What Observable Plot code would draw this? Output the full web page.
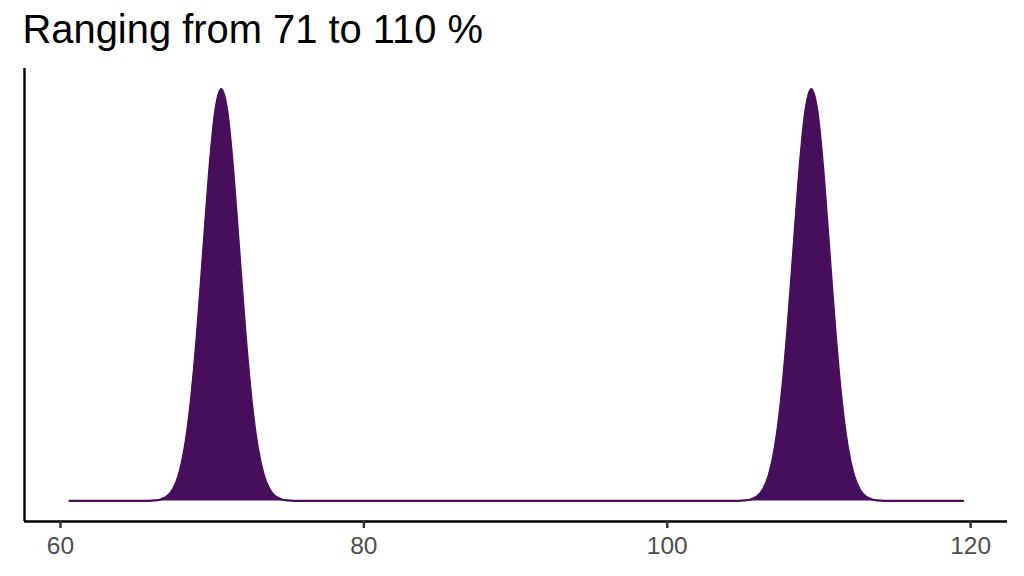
<!DOCTYPE html>
<html>
<head>
<meta charset="utf-8">
<script src="https://cdn.jsdelivr.net/npm/d3@7"></script>
<script src="https://cdn.jsdelivr.net/npm/@observablehq/plot@0.6"></script>
<style>
  html, body { margin: 0; padding: 0; background: #ffffff; }
  #wrap { position: relative; width: 1024px; height: 576px; overflow: hidden; font-family: "Liberation Sans", Arial, sans-serif; }
  #title { position: absolute; left: 22.5px; top: 10px; font-size: 39.9px; line-height: 1; color: #000; white-space: nowrap; }
  #chart { position: absolute; left: 0; top: 60px; }
</style>
</head>
<body>
<div id="wrap">
  <div id="title">Ranging from 71 to 110 %</div>
  <div id="chart"></div>
</div>
<script>
// Density curve (x in %, relative density with peak = 1)
const pct = [
  60.6, 65.0,
  65.8, 66.2, 66.6, 67.0, 67.4, 67.8, 68.2, 68.6, 69.0, 69.4, 69.8, 70.2, 70.6,
  71.0, 71.4, 71.8, 72.2, 72.6, 73.0, 73.4, 73.8, 74.2, 74.6, 75.0, 75.4,
  76.2, 103.9,
  104.7, 105.1, 105.5, 105.9, 106.3, 106.7, 107.1, 107.5, 107.9, 108.3, 108.7, 109.1, 109.5,
  109.9, 110.3, 110.7, 111.1, 111.5, 111.9, 112.3, 112.7, 113.1, 113.5, 113.9, 114.3,
  115.1, 119.5
];
const density = [
  0, 0,
  0.0003, 0.0011, 0.0035, 0.0103, 0.0269, 0.0628, 0.1309, 0.2436, 0.405, 0.601, 0.798, 0.945, 1,
  0.945, 0.798, 0.601, 0.405, 0.2436, 0.1309, 0.0628, 0.0269, 0.0103, 0.0035, 0.0011, 0.0003,
  0, 0,
  0.0003, 0.0011, 0.0035, 0.0103, 0.0269, 0.0628, 0.1309, 0.2436, 0.405, 0.601, 0.798, 0.945, 1,
  0.945, 0.798, 0.601, 0.405, 0.2436, 0.1309, 0.0628, 0.0269, 0.0103, 0.0035, 0.0011, 0.0003,
  0, 0
];
const xTicks = [60, 80, 100, 120];
const xDomain = [57.63, 122.43];
const yDomain = [-0.05, 1.05];

const data = pct.map((x, i) => ({x, y: density[i]}));
const purple = "#470e5c";

const chart = Plot.plot({
  width: 1024,
  height: 516,
  marginTop: 8,
  marginBottom: 55,
  marginLeft: 24,
  marginRight: 17,
  style: {fontFamily: "'Liberation Sans', Arial, sans-serif", background: "#ffffff"},
  x: {domain: xDomain, axis: null, label: null},
  y: {domain: yDomain, axis: null, label: null},
  marks: [
    Plot.areaY(data, {x: "x", y: "y", fill: purple, curve: "monotone-x"}),
    Plot.lineY(data, {x: "x", y: "y", stroke: purple, strokeWidth: 2.2, curve: "monotone-x"}),
    Plot.ruleY([yDomain[0]], {stroke: "#000", strokeWidth: 2.4}),
    Plot.ruleX([xDomain[0]], {stroke: "#000", strokeWidth: 2.4}),
    Plot.axisX({
      ticks: xTicks,
      tickSize: 7,
      tickPadding: 8,
      fontSize: 24.5,
      fill: "#4d4d4d",
      stroke: "#333333",
      strokeWidth: 2.4,
      label: null,
      tickFormat: d => String(d)
    })
  ]
});
document.getElementById("chart").appendChild(chart);
</script>
</body>
</html>
